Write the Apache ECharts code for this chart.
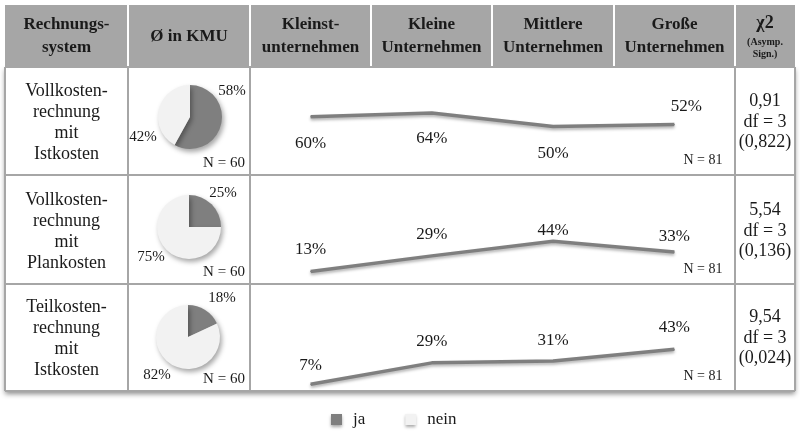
<!DOCTYPE html>
<html>
<head>
<meta charset="utf-8">
<script src="https://cdn.jsdelivr.net/npm/echarts@6/dist/echarts.min.js"></script>
<style>
  html, body { margin: 0; padding: 0; background: #ffffff; }
  #chart { width: 800px; height: 431px; }
</style>
</head>
<body>
<div id="chart"></div>
<script>
// Company size classes (line-chart columns)
const categories = ['Kleinstunternehmen', 'Kleine Unternehmen', 'Mittlere Unternehmen', 'Große Unternehmen'];

// Header cells (one array per column, one entry per text line)
const headerLabels = [
  ['Rechnungs-', 'system'],
  ['Ø in KMU'],
  ['Kleinst-', 'unternehmen'],
  ['Kleine', 'Unternehmen'],
  ['Mittlere', 'Unternehmen'],
  ['Große', 'Unternehmen']
];

// Row labels: costing systems
const systemLabels = [
  ['Vollkosten-', 'rechnung', 'mit', 'Istkosten'],
  ['Vollkosten-', 'rechnung', 'mit', 'Plankosten'],
  ['Teilkosten-', 'rechnung', 'mit', 'Istkosten']
];

// Share of SMEs using each system (ja / nein, %)
const kmuJa = [58, 25, 18];
const kmuNein = [42, 75, 82];
const nKmu = 60;

// Share using each system by company size (%)
const vollIst = [60, 64, 50, 52];
const vollPlan = [13, 29, 44, 33];
const teilIst = [7, 29, 31, 43];
const nSize = 81;

// Chi-square test results
const chiValues = ['0,91', '5,54', '9,54'];
const dfValues = [3, 3, 3];
const sigValues = ['0,822', '0,136', '0,024'];

const lineSeriesData = [vollIst, vollPlan, teilIst];

// ---- layout ----
const FONT = "'Liberation Serif', 'Times New Roman', serif";
const TXT = '#1a1a1a';
const colX = [5, 128, 250, 371, 492, 614, 735, 795];
const headTop = 5, headBottom = 67;
const rowEdges = [67, 175, 284, 391];
const pieCenters = [[190, 117], [189, 227], [188, 337]];
const pieRadius = 32;
// label positions for pie slices [ja, nein]
const pieLabelPos = [
  [[232, 91], [143, 137]],
  [[223, 193], [151, 257]],
  [[222, 298], [157, 375]]
];
// label offsets from each line point [dx, dy]
const lineLabelOffsets = [
  [[0, 27], [0, 26], [0, 27], [12, -18]],
  [[0, -22], [0, -21], [0, -11], [0, -15]],
  [[0, -19], [0, -21], [0, -20], [0, -22]]
];

const graphics = [];

// table body background with drop shadow
graphics.push({
  type: 'rect', z: 0,
  shape: { x: colX[0], y: headBottom, width: colX[7] - colX[0], height: rowEdges[3] - headBottom },
  style: { fill: '#ffffff', shadowBlur: 5, shadowOffsetY: 3, shadowColor: 'rgba(0,0,0,0.45)' }
});
// header background
graphics.push({
  type: 'rect', z: 1,
  shape: { x: colX[0], y: headTop, width: colX[7] - colX[0], height: headBottom - headTop },
  style: { fill: '#a6a6a6' }
});
// white separators in header
for (let i = 1; i < colX.length - 1; i++) {
  graphics.push({
    type: 'line', z: 2,
    shape: { x1: colX[i], y1: headTop, x2: colX[i], y2: headBottom },
    style: { stroke: '#ffffff', lineWidth: 2 }
  });
}
// body grid lines
const bodyVert = [colX[0], colX[1], colX[2], colX[6], colX[7]];
bodyVert.forEach(function (x) {
  graphics.push({
    type: 'line', z: 2,
    shape: { x1: x, y1: headBottom, x2: x, y2: rowEdges[3] },
    style: { stroke: '#a6a6a6', lineWidth: 2 }
  });
});
rowEdges.forEach(function (y) {
  graphics.push({
    type: 'line', z: 2,
    shape: { x1: colX[0], y1: y, x2: colX[7], y2: y },
    style: { stroke: '#a6a6a6', lineWidth: 2 }
  });
});

function addText(text, x, y, size, weight) {
  graphics.push({
    type: 'text', z: 5,
    x: x, y: y,
    style: {
      text: text, fill: TXT, align: 'center', verticalAlign: 'middle',
      font: (weight || 'normal') + ' ' + size + 'px ' + FONT
    }
  });
}

// header texts
headerLabels.forEach(function (lines, i) {
  const cx = (colX[i] + colX[i + 1]) / 2;
  if (lines.length === 1) {
    addText(lines[0], cx, 37, 17, 'bold');
  } else {
    addText(lines[0], cx, 25, 17, 'bold');
    addText(lines[1], cx, 48, 17, 'bold');
  }
});
// chi-square header
const chiX = (colX[6] + colX[7]) / 2;
addText('χ2', chiX, 23, 18, 'bold');
addText('(Asymp.', chiX, 42, 10, 'bold');
addText('Sign.)', chiX, 54, 10, 'bold');

// row texts
for (let r = 0; r < 3; r++) {
  const bottom = rowEdges[r + 1];
  const lx = (colX[0] + colX[1]) / 2;
  systemLabels[r].forEach(function (t, k) {
    addText(t, lx, bottom - 84 + k * 21, 18);
  });
  addText('N = ' + nKmu, 224, bottom - 12, 15);
  addText('N = ' + nSize, 703, bottom - 15, 14);
  addText(chiValues[r], chiX, bottom - 74, 18);
  addText('df = ' + dfValues[r], chiX, bottom - 53, 18);
  addText('(' + sigValues[r] + ')', chiX, bottom - 33, 18);
}

const grids = [], xAxes = [], yAxes = [], series = [];

for (let r = 0; r < 3; r++) {
  const bottom = rowEdges[r + 1];
  grids.push({ left: colX[2], right: 800 - colX[6], top: bottom - 97, height: 97 });
  xAxes.push({ type: 'category', gridIndex: r, data: categories, boundaryGap: true, show: false });
  yAxes.push({ type: 'value', gridIndex: r, min: 0, max: 100, show: false });

  series.push({
    type: 'line', name: 'Anteil ' + r,
    xAxisIndex: r, yAxisIndex: r,
    data: lineSeriesData[r].map(function (v, i) {
      return { value: v, label: { offset: lineLabelOffsets[r][i] } };
    }),
    symbol: 'circle', symbolSize: 1, showSymbol: true,
    itemStyle: { color: '#7f7f7f' },
    lineStyle: {
      color: '#7f7f7f', width: 3.5,
      shadowColor: 'rgba(0,0,0,0.3)', shadowBlur: 3, shadowOffsetY: 2
    },
    label: {
      show: true, position: 'inside', formatter: '{c}%',
      fontFamily: FONT, fontSize: 17, color: TXT
    },
    silent: true, animation: false, z: 4
  });

  const pos = pieLabelPos[r];
  series.push({
    type: 'pie', name: 'KMU ' + r,
    center: pieCenters[r], radius: pieRadius,
    startAngle: 90, clockwise: true,
    data: [
      { name: 'ja', value: kmuJa[r], itemStyle: { color: '#7f7f7f' } },
      { name: 'nein', value: kmuNein[r], itemStyle: { color: '#f2f2f2' } }
    ],
    itemStyle: {
      shadowColor: 'rgba(0,0,0,0.35)', shadowBlur: 5, shadowOffsetX: 2, shadowOffsetY: 3
    },
    label: {
      show: true, position: 'outside', formatter: '{c}%',
      fontFamily: FONT, fontSize: 15, color: TXT
    },
    labelLine: { show: false },
    labelLayout: function (p) {
      const q = pos[p.dataIndex];
      return { x: q[0], y: q[1], align: 'center', verticalAlign: 'middle' };
    },
    emphasis: { disabled: true },
    silent: true, animation: false, z: 4
  });
}

const chart = echarts.init(document.getElementById('chart'), null, { renderer: 'canvas' });
chart.setOption({
  backgroundColor: '#ffffff',
  animation: false,
  grid: grids,
  xAxis: xAxes,
  yAxis: yAxes,
  legend: {
    data: ['ja', 'nein'],
    top: 406, left: 326,
    icon: 'rect', itemWidth: 11, itemHeight: 11, itemGap: 40,
    itemStyle: { shadowBlur: 3, shadowOffsetY: 2, shadowColor: 'rgba(0,0,0,0.35)' },
    textStyle: { fontFamily: FONT, fontSize: 17, color: TXT, padding: [0, 0, 0, 6] },
    selectedMode: false
  },
  graphic: graphics,
  series: series
});
</script>
</body>
</html>
